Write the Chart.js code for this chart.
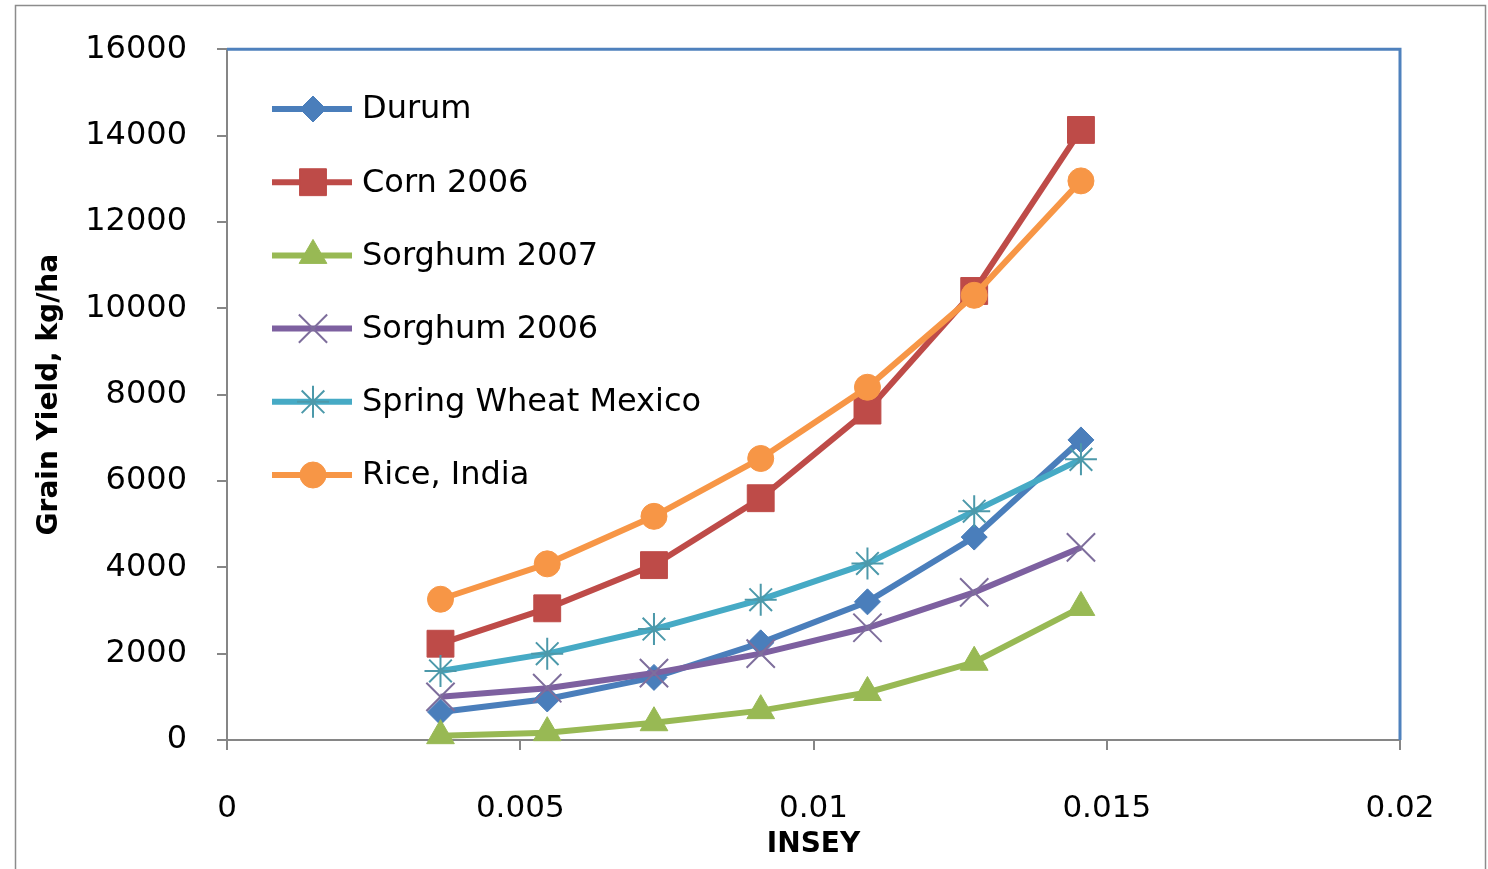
<!DOCTYPE html>
<html>
<head>
<meta charset="utf-8">
<title>Grain Yield vs INSEY</title>
<script src="https://cdn.jsdelivr.net/npm/chart.js@4.4.0/dist/chart.umd.min.js"></script>
<style>
  html, body { margin: 0; padding: 0; background: #ffffff; }
  #wrap { width: 1488px; height: 869px; }
</style>
</head>
<body>
<div id="wrap"><canvas id="yieldChart" width="1488" height="869"></canvas></div>
<script>
// In-season estimate of yield (INSEY) at each sampling level
const insey = [0.00364, 0.00546, 0.00728, 0.0091, 0.01092, 0.01274, 0.01456];

// Grain yield, kg/ha, per crop
const durum        = [650, 950, 1450, 2250, 3200, 4700, 6950];
const corn2006     = [2230, 3050, 4050, 5600, 7630, 10400, 14130];
const sorghum2007  = [100, 170, 400, 680, 1100, 1800, 3070];
const sorghum2006  = [1000, 1200, 1550, 2000, 2600, 3420, 4460];
const springWheat  = [1600, 2000, 2570, 3250, 4090, 5300, 6500];
const riceIndia    = [3260, 4080, 5180, 6520, 8170, 10300, 12950];

const seriesNames = ['Durum', 'Corn 2006', 'Sorghum 2007', 'Sorghum 2006', 'Spring Wheat Mexico', 'Rice, India'];
const seriesValues = [durum, corn2006, sorghum2007, sorghum2006, springWheat, riceIndia];

// Axis ticks and labels
const xTicks = [0, 0.005, 0.01, 0.015, 0.02];
const xTickLabels = ['0', '0.005', '0.01', '0.015', '0.02'];
const yTicks = [0, 2000, 4000, 6000, 8000, 10000, 12000, 14000, 16000];
const yTickLabels = ['0', '2000', '4000', '6000', '8000', '10000', '12000', '14000', '16000'];

// Visual style of each series (line colour, marker shape)
const seriesStyles = [
  { line: '#4A7EBB', fill: '#4A7EBB', edge: '#4A7EBB', shape: 'rectRot',  radius: 13, edgeWidth: 1 },
  { line: '#BE4B48', fill: '#BE4B48', edge: '#BE4B48', shape: 'rect',     radius: 19, edgeWidth: 1 },
  { line: '#98B954', fill: '#98B954', edge: '#98B954', shape: 'triangle', radius: 16, edgeWidth: 1 },
  { line: '#7D60A0', fill: 'rgba(0,0,0,0)', edge: '#7E6E9C', shape: 'crossRot', radius: 20, edgeWidth: 2 },
  { line: '#46AAC5', fill: 'rgba(0,0,0,0)', edge: '#4C99AA', shape: 'star',  radius: 16, edgeWidth: 2 },
  { line: '#F79646', fill: '#F79646', edge: '#F79646', shape: 'circle',   radius: 13, edgeWidth: 1 }
];

const FONT = 'DejaVu Sans';
const AXIS_GRAY = '#868686';

const datasets = seriesNames.map((name, i) => ({
  label: name,
  data: insey.map((x, k) => ({ x: x, y: seriesValues[i][k] })),
  showLine: true,
  borderColor: seriesStyles[i].line,
  borderWidth: 6,
  pointStyle: seriesStyles[i].shape,
  pointRadius: seriesStyles[i].radius,
  pointBackgroundColor: seriesStyles[i].fill,
  pointBorderColor: seriesStyles[i].edge,
  pointBorderWidth: seriesStyles[i].edgeWidth,
  // later series are painted above earlier ones
  order: seriesNames.length - i,
  clip: false
}));

// White background and outer frame of the chart
const framePlugin = {
  id: 'frame',
  beforeDraw(chart) {
    const ctx = chart.ctx;
    ctx.save();
    ctx.fillStyle = '#ffffff';
    ctx.fillRect(0, 0, chart.width, chart.height);
    ctx.strokeStyle = '#8c8c8c';
    ctx.lineWidth = 1.5;
    ctx.strokeRect(15.5, 5.5, chart.width - 18, chart.height + 40);
    ctx.restore();
  }
};

// Blue border along the top and right of the plot area
const plotBorderPlugin = {
  id: 'plotBorder',
  beforeDatasetsDraw(chart) {
    const { ctx, chartArea: a } = chart;
    ctx.save();
    ctx.strokeStyle = '#4F81BD';
    ctx.lineWidth = 3;
    ctx.beginPath();
    ctx.moveTo(a.left, a.top);
    ctx.lineTo(a.right, a.top);
    ctx.lineTo(a.right, a.bottom);
    ctx.stroke();
    ctx.restore();
  }
};

// Legend inside the plot: line segment with marker, then the series name
const innerLegendPlugin = {
  id: 'innerLegend',
  afterDraw(chart) {
    const ctx = chart.ctx;
    const x0 = 272, x1 = 352, xm = 313, xt = 362;
    const rowTop = 109, rowStep = 73.2;
    ctx.save();
    chart.data.datasets.forEach((ds, i) => {
      const y = rowTop + i * rowStep;
      ctx.strokeStyle = ds.borderColor;
      ctx.lineWidth = ds.borderWidth;
      ctx.lineCap = 'butt';
      ctx.beginPath();
      ctx.moveTo(x0, y);
      ctx.lineTo(x1, y);
      ctx.stroke();
      ctx.fillStyle = ds.pointBackgroundColor;
      ctx.strokeStyle = ds.pointBorderColor;
      ctx.lineWidth = ds.pointBorderWidth;
      Chart.helpers.drawPoint(ctx, {
        pointStyle: ds.pointStyle,
        radius: ds.pointRadius,
        rotation: 0,
        borderWidth: ds.pointBorderWidth
      }, xm, y);
      ctx.fillStyle = '#000000';
      ctx.font = '32px "' + FONT + '"';
      ctx.textAlign = 'left';
      ctx.textBaseline = 'middle';
      ctx.fillText(ds.label, xt, y + 1);
    });
    ctx.restore();
  }
};

new Chart(document.getElementById('yieldChart'), {
  type: 'scatter',
  data: { datasets: datasets },
  plugins: [framePlugin, plotBorderPlugin, innerLegendPlugin],
  options: {
    responsive: false,
    animation: false,
    devicePixelRatio: 1,
    layout: { padding: { left: 0, top: 48, right: 88, bottom: 0 } },
    plugins: {
      legend: { display: false },
      tooltip: { enabled: false }
    },
    scales: {
      x: {
        type: 'linear',
        min: 0,
        max: 0.02,
        afterBuildTicks(scale) { scale.ticks = xTicks.map(v => ({ value: v })); },
        afterFit(scale) { scale.height = 129; },
        ticks: {
          autoSkip: false,
          maxRotation: 0,
          padding: 40,
          color: '#000000',
          font: { family: FONT, size: 31 },
          callback: (v, i) => xTickLabels[i]
        },
        grid: { drawOnChartArea: false, drawTicks: true, tickLength: 10, color: AXIS_GRAY, lineWidth: 2 },
        border: { display: true, color: AXIS_GRAY, width: 2 },
        title: {
          display: true,
          text: 'INSEY',
          color: '#000000',
          font: { family: FONT, size: 28, weight: 'bold' },
          padding: { top: 0, bottom: 7 }
        }
      },
      y: {
        type: 'linear',
        min: 0,
        max: 16000,
        afterBuildTicks(scale) { scale.ticks = yTicks.map(v => ({ value: v })); },
        afterFit(scale) { scale.width = 227; },
        ticks: {
          autoSkip: false,
          padding: 30,
          color: '#000000',
          font: { family: FONT, size: 32 },
          callback: (v, i) => yTickLabels[i]
        },
        grid: { drawOnChartArea: false, drawTicks: true, tickLength: 10, color: AXIS_GRAY, lineWidth: 2 },
        border: { display: true, color: AXIS_GRAY, width: 2 },
        title: {
          display: true,
          text: 'Grain Yield, kg/ha',
          color: '#000000',
          font: { family: FONT, size: 28, weight: 'bold' },
          padding: { top: 33, bottom: 0 }
        }
      }
    }
  }
});
</script>
</body>
</html>
